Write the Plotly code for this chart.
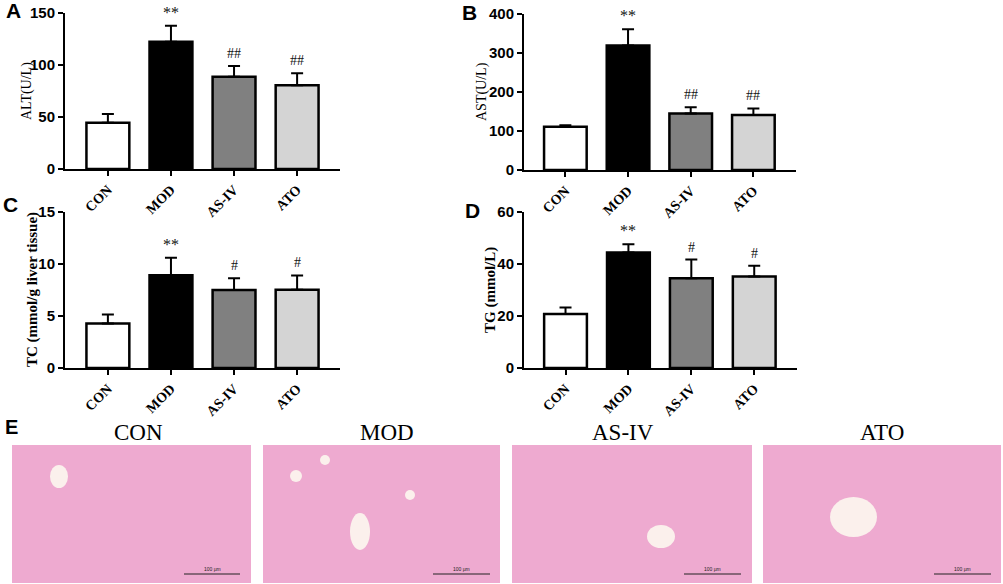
import plotly.graph_objects as go

W, H = 1003, 584

groups = ["CON", "MOD", "AS-IV", "ATO"]
bar_colors = ["#ffffff", "#000000", "#808080", "#d4d4d4"]

alt_mean = [44.5, 122.4, 88.8, 80.5]
alt_err = [8.4, 15.4, 10.2, 11.5]
ast_mean = [111, 319, 145, 141]
ast_err = [4, 42, 16, 17]
tc_mean = [4.29, 8.93, 7.49, 7.52]
tc_err = [0.86, 1.66, 1.15, 1.38]
tg_mean = [20.8, 44.4, 34.5, 35.2]
tg_err = [2.5, 3.2, 7.2, 4.1]

alt_marks = ["", "**", "##", "##"]
ast_marks = ["", "**", "##", "##"]
tc_marks = ["", "**", "#", "#"]
tg_marks = ["", "**", "#", "#"]

# (name, means, errs, marks, ytitle, ymax, dtick, x0px, x1px, ytop_px, ybot_px, title x, title size, title weight)
panels = [
    ("A", alt_mean, alt_err, alt_marks, "ALT(U/L)", 150, 50, 65, 340, 13, 169, 27, 14, "normal"),
    ("B", ast_mean, ast_err, ast_marks, "AST(U/L)", 400, 100, 524, 796, 14, 170, 482, 14, "normal"),
    ("C", tc_mean, tc_err, tc_marks, "TC (mmol/g liver tissue)", 15, 5, 65, 340, 212, 368, 32, 15, "bold"),
    ("D", tg_mean, tg_err, tg_marks, "TG (mmol/L)", 60, 20, 524, 797, 212, 368, 490, 15, "bold"),
]
letter_pos = {"A": (4, -3), "B": (460, -1), "C": (1, 191), "D": (463, 197)}

def px(x):
    return x / W

def py(y):
    return 1 - y / H

fig = go.Figure()
annotations = []
shapes = []

for i, (name, means, errs, marks, ytitle, ymax, dtick, x0, x1, yt, yb, tx, tsize, tweight) in enumerate(panels):
    n = "" if i == 0 else str(i + 1)
    xa, ya = "x" + n, "y" + n
    fig.add_trace(go.Bar(
        x=groups, y=means, xaxis=xa, yaxis=ya, width=0.68,
        marker=dict(color=bar_colors, line=dict(color="black", width=2.5)),
        error_y=dict(type="data", array=errs, arrayminus=[0] * 4, symmetric=False,
                     color="black", thickness=2, width=6),
        showlegend=False, hoverinfo="skip",
    ))
    xr = [-0.68, 3.68] if x0 == 65 else [-0.66, 3.68]
    fig.update_layout(**{
        "xaxis" + n: dict(domain=[px(x0), px(x1)], anchor=ya, range=xr, automargin=False,
                          showline=True, linecolor="black", linewidth=2,
                          ticks="outside", ticklen=5, tickwidth=2, tickcolor="black",
                          tickangle=-45, showgrid=False,
                          tickfont=dict(family="Liberation Serif", size=14, color="black", weight="bold")),
        "yaxis" + n: dict(domain=[py(yb), py(yt)], anchor=xa, range=[0, ymax], dtick=dtick,
                          automargin=False,
                          showline=True, linecolor="black", linewidth=2,
                          ticks="outside", ticklen=5, tickwidth=2, tickcolor="black",
                          showgrid=False, zeroline=False,
                          tickfont=dict(family="Liberation Sans", size=15, color="black", weight="bold")),
    })
    for g, m, e, mk in zip(groups, means, errs, marks):
        if mk:
            annotations.append(dict(x=g, y=m + e, xref=xa, yref=ya, text=mk, showarrow=False,
                                    xanchor="center", yanchor="bottom", yshift=3,
                                    font=dict(family="Liberation Serif", size=16 if mk == "**" else 14, color="#111111")))
    annotations.append(dict(x=px(tx), y=py((yt + yb) / 2), xref="paper", yref="paper",
                            text=ytitle, textangle=-90, showarrow=False,
                            xanchor="center", yanchor="middle",
                            font=dict(family="Liberation Serif", size=tsize, color="black", weight=tweight)))
    lx, ly = letter_pos[name]
    annotations.append(dict(x=px(lx), y=py(ly), xref="paper", yref="paper", text=name, showarrow=False,
                            xanchor="left", yanchor="top",
                            font=dict(family="Liberation Sans", size=21, color="black", weight="bold")))

# panel E: histology placeholders
annotations.append(dict(x=px(3), y=py(414), xref="paper", yref="paper", text="E", showarrow=False,
                        xanchor="left", yanchor="top",
                        font=dict(family="Liberation Sans", size=20, color="black", weight="bold")))
img_boxes = [(12, 251), (263, 500), (512, 752), (763, 1001)]
title_x = [138, 387, 623, 882]
vessels = [[(50, 465, 68, 488)],
           [(350, 513, 370, 550), (290, 470, 302, 482), (320, 455, 330, 465), (405, 490, 415, 500)],
           [(647, 525, 675, 548)],
           [(830, 497, 877, 537)]]
scale_bars = [(184, 240), (433, 490), (684, 741), (934, 991)]
for (a, b), tx, ves, (s0, s1), g in zip(img_boxes, title_x, vessels, scale_bars, groups):
    shapes.append(dict(type="rect", xref="paper", yref="paper", x0=px(a), x1=px(b), y0=py(583), y1=py(445),
                       fillcolor="#eeaad0", line=dict(width=0), layer="below"))
    for (v0, w0, v1, w1) in ves:
        shapes.append(dict(type="circle", xref="paper", yref="paper", x0=px(v0), x1=px(v1),
                           y0=py(w1), y1=py(w0), fillcolor="#fbf0ec", line=dict(width=0)))
    shapes.append(dict(type="line", xref="paper", yref="paper", x0=px(s0), x1=px(s1),
                       y0=py(574), y1=py(574), line=dict(color="#222222", width=1)))
    annotations.append(dict(x=px((s0 + s1) / 2), y=py(574), xref="paper", yref="paper", text="100 μm",
                            showarrow=False, xanchor="center", yanchor="bottom",
                            font=dict(family="Liberation Sans", size=5, color="#222222")))
    annotations.append(dict(x=px(tx), y=py(432), xref="paper", yref="paper", text=g, showarrow=False,
                            xanchor="center", yanchor="middle",
                            font=dict(family="Liberation Serif", size=23, color="black")))

fig.update_layout(
    width=W, height=H, margin=dict(l=0, r=0, t=0, b=0, autoexpand=False),
    paper_bgcolor="white", plot_bgcolor="white",
    annotations=annotations, shapes=shapes, bargap=0.3,
)
# drop the default page margin so the figure sits at the window's top-left corner
fig.write_html("out.html", config={"displayModeBar": False},
               post_script="document.body.style.margin='0';document.body.style.overflow='hidden';")
